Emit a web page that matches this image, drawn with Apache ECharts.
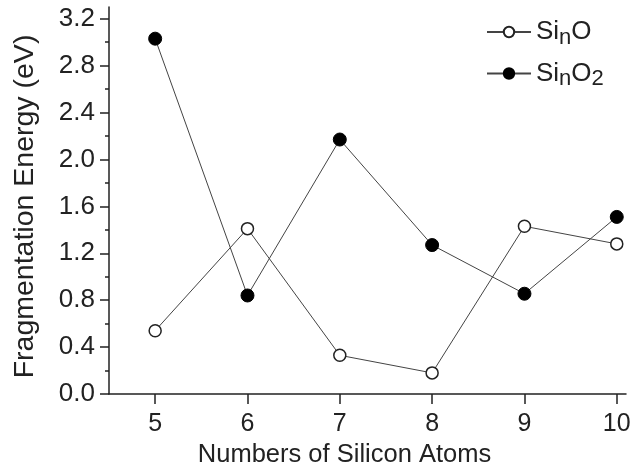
<!DOCTYPE html>
<html>
<head>
<meta charset="utf-8">
<script src="https://cdn.jsdelivr.net/npm/echarts@6/dist/echarts.min.js"></script>
<style>
  html, body { margin: 0; padding: 0; background: #fff; }
  #chart { width: 633px; height: 471px; }
</style>
</head>
<body>
<div id="chart"></div>
<script>
// Number of silicon atoms n
const atoms = [5, 6, 7, 8, 9, 10];
// Fragmentation energies (eV)
const siO = [0.54, 1.41, 0.33, 0.18, 1.43, 1.28];
const siO2 = [3.03, 0.84, 2.17, 1.27, 0.855, 1.51];
// Axis ticks
const xTicks = [5, 6, 7, 8, 9, 10];
const yTicks = [0, 0.4, 0.8, 1.2, 1.6, 2.0, 2.4, 2.8, 3.2];
const yMinorTicks = [0.2, 0.6, 1.0, 1.4, 1.8, 2.2, 2.6, 3.0];

const FONT = '"Liberation Sans", Arial, sans-serif';
const INK = '#222';

const chart = echarts.init(document.getElementById('chart'), null, { renderer: 'canvas' });

const pairs = arr => atoms.map((n, i) => [n, arr[i]]);

chart.setOption({
  animation: false,
  backgroundColor: '#fff',
  grid: { left: 109, right: 7, top: 7, bottom: 77, containLabel: false, outerBoundsMode: 'none' },
  xAxis: {
    type: 'value',
    min: 4.5,
    max: 10.1,
    name: 'Numbers of Silicon Atoms',
    nameLocation: 'middle',
    nameGap: 48,
    // title sits a little left of the axis centre
    nameTextStyle: { fontFamily: FONT, fontSize: 25.5, color: INK, padding: [0, 46, 0, 0] },
    axisLine: { onZero: false, lineStyle: { color: INK, width: 1.5 } },
    axisTick: { show: true, inside: false, length: 10, lineStyle: { color: INK, width: 1.5 }, customValues: xTicks },
    axisLabel: { customValues: xTicks, fontFamily: FONT, fontSize: 25, color: INK, margin: 18 },
    splitLine: { show: false }
  },
  yAxis: [
    {
      type: 'value',
      min: 0,
      max: 3.3,
      name: 'Fragmentation Energy (eV)',
      nameLocation: 'middle',
      nameGap: 69,
      nameTextStyle: { fontFamily: FONT, fontSize: 28.5, color: INK, padding: [0, 12, 0, 0] },
      axisLine: { show: true, lineStyle: { color: INK, width: 1.5 } },
      axisTick: { show: true, inside: false, length: 9, lineStyle: { color: INK, width: 1.5 }, customValues: yTicks },
      axisLabel: { customValues: yTicks, fontFamily: FONT, fontSize: 26, color: INK, margin: 14,
        formatter: v => v.toFixed(1) },
      splitLine: { show: false }
    },
    {
      // minor ticks between the labelled ones
      type: 'value',
      min: 0,
      max: 3.3,
      position: 'left',
      axisLine: { show: false },
      axisTick: { show: true, inside: false, length: 4, lineStyle: { color: INK, width: 1.5 }, customValues: yMinorTicks },
      axisLabel: { show: false },
      splitLine: { show: false }
    }
  ],
  legend: {
    orient: 'vertical',
    left: 481,
    top: 14,
    itemWidth: 44,
    itemHeight: 13,
    itemGap: 12,
    textStyle: {
      fontFamily: FONT, fontSize: 26, color: INK,
      rich: {
        b: { fontFamily: FONT, fontSize: 26, color: INK },
        s: { fontFamily: FONT, fontSize: 22, color: INK, padding: [11, 0, 0, 0] }
      }
    },
    formatter: name => name === 'SinO' ? '{b|Si}{s|n}{b|O}' : '{b|Si}{s|n}{b|O}{s|2}',
    data: ['SinO', 'SinO2']
  },
  series: [
    {
      name: 'SinO',
      type: 'line',
      data: pairs(siO),
      symbol: 'circle',
      symbolSize: 12,
      lineStyle: { color: '#444', width: 1 },
      itemStyle: { color: '#fff', borderColor: '#222', borderWidth: 1.5 },
      z: 3
    },
    {
      name: 'SinO2',
      type: 'line',
      data: pairs(siO2),
      symbol: 'circle',
      symbolSize: 13,
      lineStyle: { color: '#444', width: 1 },
      itemStyle: { color: '#000', borderColor: '#000', borderWidth: 1 },
      z: 4
    }
  ]
});
</script>
</body>
</html>
